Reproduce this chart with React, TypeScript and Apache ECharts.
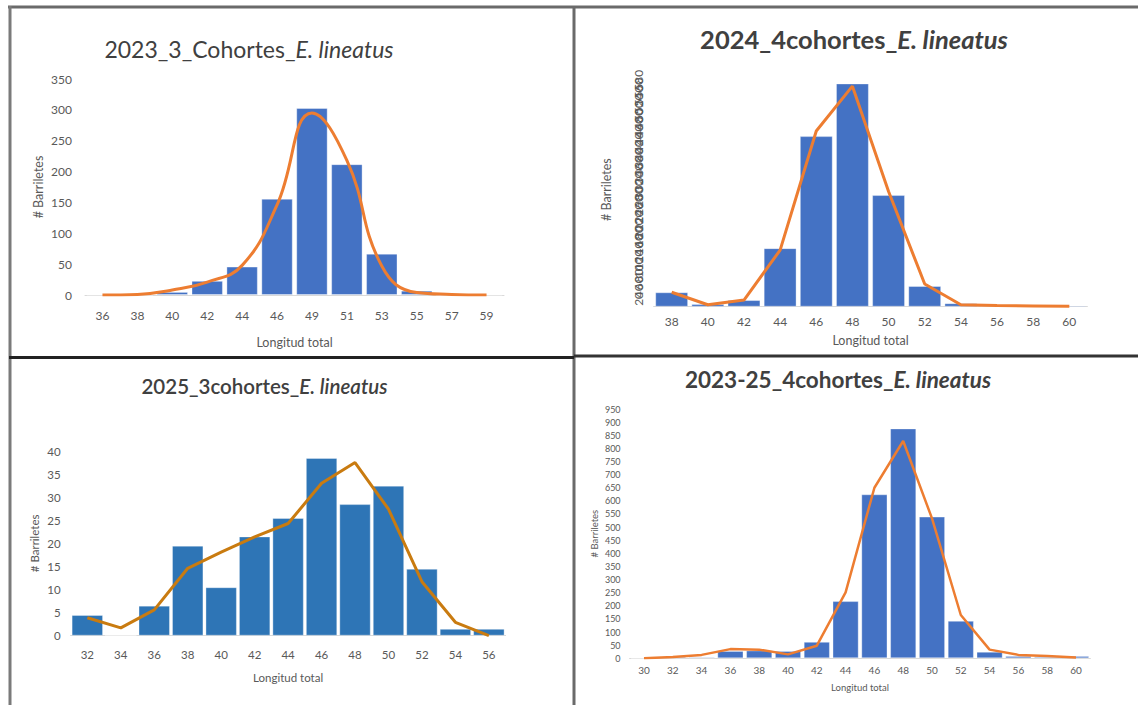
import React, { useEffect, useRef } from "react";
import * as echarts from "echarts";

// 2023 — three cohorts
const tallas2023 = ["36", "38", "40", "42", "44", "46", "49", "51", "53", "55", "57", "59"];
const barras2023 = [0, 0, 5, 23, 46, 156, 303, 212, 67, 7, 0, 0];
const ajuste2023 = [0, 1, 8, 21, 48, 146, 295, 218, 47, 4, 1, 0];

// 2024 — four cohorts
const tallas2024 = ["38", "40", "42", "44", "46", "48", "50", "52", "54", "56", "58", "60"];
const barras2024 = [37, 7, 17, 150, 437, 572, 286, 53, 9, 3, 2, 3];
const ajuste2024 = [37, 5, 17, 145, 450, 565, 295, 58, 5, 3, 2, 1];

// 2025 — three cohorts
const tallas2025 = ["32", "34", "36", "38", "40", "42", "44", "46", "48", "50", "52", "54", "56"];
const barras2025 = [4.5, 0, 6.5, 19.5, 10.5, 21.5, 25.5, 38.5, 28.5, 32.5, 14.5, 1.5, 1.5];
const ajuste2025 = [3.9, 1.7, 5.6, 14.6, 18.1, 21.4, 24.3, 33, 37.5, 27.4, 11.7, 2.9, 0];

// 2023-25 pooled — four cohorts
const tallasTotal = ["30", "32", "34", "36", "38", "40", "42", "44", "46", "48", "50", "52", "54", "56", "58", "60"];
const barrasTotal = [1, 6, 5, 28, 30, 28, 63, 218, 625, 876, 540, 143, 25, 9, 6, 9];
const ajusteTotal = [0, 5, 13, 35, 33, 15, 48, 251, 650, 828, 533, 165, 33, 13, 9, 3];

const FONT = "Lato, 'Noto Sans', sans-serif";
const GRAY = "#595959";
const AZUL = "#4472C4";
const NARANJA = "#ED7D31";

type Panel = {
  grid: { left: number; top: number; width: number; height: number };
  cats: string[];
  bars: number[];
  fit: number[];
  max: number;
  interval: number;
  barColor: string;
  lineColor: string;
  lineWidth: number;
  smooth: boolean | number;
  gap: string;
  tickSize: number;
  ySize: number;
  yRotate: number;
  yMargin: number;
  xMargin: number;
  nameSize: number;
  xNameGap: number;
  yNameGap: number;
};

const panels: Panel[] = [
  {
    grid: { left: 85, top: 79, width: 419, height: 216 },
    cats: tallas2023, bars: barras2023, fit: ajuste2023,
    max: 350, interval: 50, barColor: AZUL, lineColor: NARANJA, lineWidth: 3, smooth: 0.45,
    gap: "10%", tickSize: 12, ySize: 12, yRotate: 0, yMargin: 13, xMargin: 14,
    nameSize: 12.5, xNameGap: 41, yNameGap: 40,
  },
  {
    grid: { left: 653.6, top: 72.5, width: 433.8, height: 234.2 },
    cats: tallas2024, bars: barras2024, fit: ajuste2024,
    max: 600, interval: 20, barColor: AZUL, lineColor: NARANJA, lineWidth: 3, smooth: false,
    gap: "9%", tickSize: 12, ySize: 12, yRotate: 90, yMargin: 9, xMargin: 9,
    nameSize: 12.5, xNameGap: 27, yNameGap: 41,
  },
  {
    grid: { left: 70.6, top: 451, width: 435, height: 184.7 },
    cats: tallas2025, bars: barras2025, fit: ajuste2025,
    max: 40, interval: 5, barColor: "#2E75B6", lineColor: "#C97B10", lineWidth: 3, smooth: false,
    gap: "6%", tickSize: 11.5, ySize: 11.5, yRotate: 0, yMargin: 10, xMargin: 13,
    nameSize: 11.5, xNameGap: 36, yNameGap: 30,
  },
  {
    grid: { left: 629.6, top: 409, width: 460.8, height: 249.3 },
    cats: tallasTotal, bars: barrasTotal, fit: ajusteTotal,
    max: 950, interval: 50, barColor: AZUL, lineColor: NARANJA, lineWidth: 2.5, smooth: false,
    gap: "9%", tickSize: 10, ySize: 9, yRotate: 0, yMargin: 9, xMargin: 7,
    nameSize: 9.5, xNameGap: 24, yNameGap: 30,
  },
];

const titulos = [
  { pre: "2023_3_Cohortes_", x: 249, y: 52, size: 23, weight: "normal" },
  { pre: "2024_4cohortes_", x: 854, y: 42, size: 25.5, weight: "bold" },
  { pre: "2025_3cohortes_", x: 264.5, y: 388, size: 20.5, weight: 600 },
  { pre: "2023-25_4cohortes_", x: 838, y: 382, size: 22.5, weight: "bold" },
];

function buildOption() {
  const grid = panels.map((p) => ({ ...p.grid, containLabel: false }));
  const xAxis = panels.map((p, i) => ({
    type: "category",
    gridIndex: i,
    data: p.cats,
    name: "Longitud total",
    nameLocation: "middle",
    nameGap: p.xNameGap,
    nameTextStyle: { color: GRAY, fontFamily: FONT, fontSize: p.nameSize },
    axisLine: { lineStyle: { color: "#D9D9D9", width: 1 } },
    axisTick: { show: false },
    axisLabel: { color: GRAY, fontFamily: FONT, fontSize: p.tickSize, margin: p.xMargin, interval: 0 },
  }));
  const yAxis = panels.map((p, i) => {
    const label: any = {
      color: GRAY,
      fontFamily: FONT,
      fontSize: p.ySize,
      margin: p.yMargin,
      rotate: p.yRotate,
    };
    if (p.yRotate) {
      label.align = "center";
      label.verticalAlign = "bottom";
    }
    return {
      type: "value",
      gridIndex: i,
      min: 0,
      max: p.max,
      interval: p.interval,
      name: "# Barriletes",
      nameLocation: "middle",
      nameGap: p.yNameGap,
      nameTextStyle: { color: GRAY, fontFamily: FONT, fontSize: p.nameSize },
      axisLine: { show: false },
      axisTick: { show: false },
      splitLine: { show: false },
      axisLabel: label,
    };
  });
  const series: any[] = [];
  panels.forEach((p, i) => {
    series.push({
      type: "bar",
      xAxisIndex: i,
      yAxisIndex: i,
      data: p.bars,
      barCategoryGap: p.gap,
      itemStyle: { color: p.barColor, borderColor: "rgba(255,255,255,0.35)", borderWidth: 1 },
    });
    series.push({
      type: "line",
      xAxisIndex: i,
      yAxisIndex: i,
      data: p.fit,
      smooth: p.smooth,
      symbol: "none",
      lineStyle: { color: p.lineColor, width: p.lineWidth },
    });
  });
  const title = titulos.map((t) => ({
    text: `{n|${t.pre}}{i|E. lineatus}`,
    left: t.x,
    top: t.y - t.size * 0.62,
    textAlign: "center",
    padding: 0,
    textStyle: {
      rich: {
        n: { fontFamily: FONT, fontSize: t.size, fontWeight: t.weight, color: "#404040" },
        i: { fontFamily: FONT, fontSize: t.size, fontWeight: t.weight, fontStyle: "italic", color: "#404040" },
      },
    },
  }));
  const linea = (x1: number, y1: number, x2: number, y2: number, color: string, w: number) => ({
    type: "line",
    shape: { x1, y1, x2, y2 },
    style: { stroke: color, lineWidth: w },
    silent: true,
  });
  const graphic = [
    linea(8, 7, 1138, 7, "#6a6a6a", 3),
    linea(10, 6, 10, 705, "#7a7a7a", 3),
    linea(574, 6, 574, 705, "#6a6a6a", 3),
    linea(9, 357.5, 574, 357.5, "#222222", 3),
    linea(574, 356, 1138, 356, "#333333", 3),
  ];
  return {
    animation: false,
    backgroundColor: "#ffffff",
    title,
    grid,
    xAxis,
    yAxis,
    series,
    graphic,
  };
}

export default function App() {
  const ref = useRef<HTMLDivElement>(null);
  useEffect(() => {
    if (!ref.current) return;
    const chart = echarts.init(ref.current, undefined, { renderer: "svg" });
    chart.setOption(buildOption() as any);
    return () => chart.dispose();
  }, []);
  return (
    <div
      ref={ref}
      style={{ position: "fixed", left: 0, top: 0, width: 1138, height: 705, background: "#fff" }}
    />
  );
}
